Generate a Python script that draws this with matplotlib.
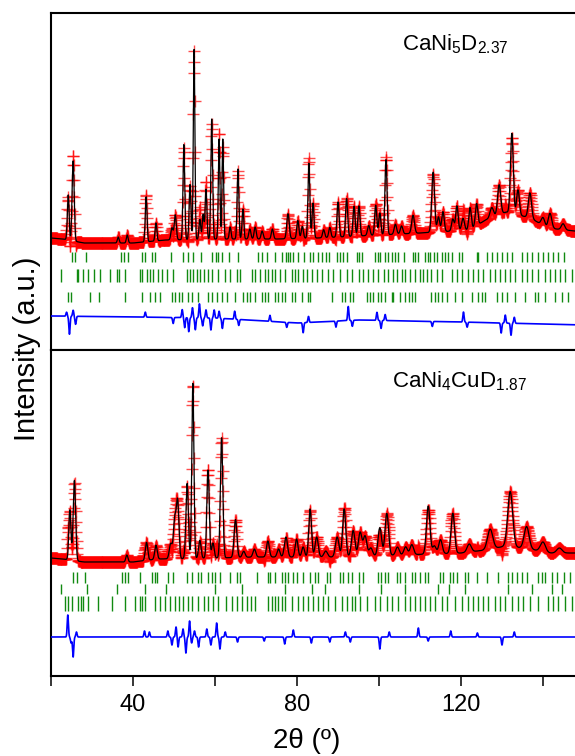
import numpy as np
import matplotlib
matplotlib.use("Agg")
import matplotlib.pyplot as plt

plt.rcParams['font.family'] = ['Liberation Sans', 'DejaVu Sans']
plt.rcParams['mathtext.fontset'] = 'custom'
plt.rcParams['mathtext.rm'] = 'Liberation Sans'
plt.rcParams['mathtext.default'] = 'regular'

# ---- data (intensity in arbitrary units) ----
# upper panel: CaNi5D2.37
top_bg_pos = [20, 23, 28, 40, 48, 60, 75, 85, 95, 110, 122, 126, 131, 137, 141, 150]
top_bg_val = [112, 111, 107, 107, 110, 111, 111, 112, 114, 117, 120, 130, 138, 132, 122, 118]
top_peak_pos = [24.2, 25.4, 36.4, 38.6, 43.2, 45.6, 49.5, 50.3, 52.4, 53.9, 54.9, 56.3,
                57.1, 57.8, 59.2, 61.0, 61.9, 63.7, 65.6, 66.8, 68.5, 69.8, 71.5, 74.0,
                77.8, 80.2, 81.3, 82.9, 83.9, 86.5, 88.0, 90.0, 92.1, 93.9, 95.1, 97.5,
                99.2, 100.2, 101.7, 104.0, 105.5, 108.3, 113.2, 114.5, 115.6, 118.0, 119.0,
                120.5, 122.2, 123.8, 127.5, 129.3, 132.4, 133.9, 136.8, 140.0, 141.7, 144.9]
top_peak_h = [45, 80, 6, 8, 45, 18, 12, 25, 95, 55, 190, 20,
              25, 50, 120, 100, 100, 12, 70, 30, 10, 12, 8, 10,
              25, 18, 12, 75, 35, 8, 10, 35, 38, 30, 30, 10,
              30, 22, 75, 10, 8, 18, 60, 15, 20, 12, 25,
              12, 22, 22, 10, 30, 80, 25, 25, 8, 15, 6]
top_peak_w = [0.5, 0.6, 0.5, 0.5, 0.5, 0.5, 0.6, 0.6, 0.5, 0.5, 0.45, 0.5,
              0.5, 0.5, 0.5, 0.45, 0.45, 0.5, 0.5, 0.5, 0.6, 0.6, 0.6, 0.6,
              0.7, 0.6, 0.6, 0.55, 0.55, 0.6, 0.6, 0.6, 0.6, 0.6, 0.6, 0.7,
              0.6, 0.6, 0.6, 0.7, 0.7, 0.8, 0.8, 0.7, 0.7, 0.7, 0.7,
              0.8, 0.7, 0.7, 1.0, 0.9, 0.8, 0.8, 0.9, 1.0, 1.0, 1.0]
top_diff_base_pos = [20, 60, 80, 95, 120, 150]
top_diff_base_val = [34, 32, 27, 30, 28, 25]
top_diff_pos = [23.8, 24.5, 25.4, 26.0, 43.0, 49.8, 52.0, 52.6, 53.6, 54.5, 55.2, 56.2,
                57.0, 57.8, 59.0, 59.8, 61.0, 61.8, 64.8, 65.8, 73.4, 77.5, 81.5, 82.8,
                89.5, 92.5, 93.5, 99.5, 100.5, 101.5, 113.0, 120.6, 121.5, 129.8, 130.8,
                132.2, 133.0]
top_diff_amp = [4, -18, 6, -8, 5, -6, 8, -10, -14, 10, -12, 14,
                -8, 8, -12, 8, 7, -10, 8, -6, 6, -5, -10, 6,
                -6, 14, -6, 8, -8, 6, -5, 10, -5, -10, 8,
                -12, 6]
top_ticks_a = [25.2, 25.9, 28.5, 37.1, 37.9, 38.9, 42.1, 42.9, 44.7, 45.4, 49.3, 52.3,
               53.3, 54.7, 56.6, 59.2, 60.2, 60.8, 61.6, 63.3, 65.7, 70.6, 71.4, 72.6,
               74.6, 76.4, 77.2, 77.7, 78.3, 79.1, 80.3, 81.8, 83.2, 84.0, 85.2, 86.0,
               87.0, 87.8, 89.7, 90.5, 91.3, 92.1, 94.6, 95.1, 95.8, 99.0, 99.7, 100.2,
               101.5, 102.1, 103.1, 103.9, 104.7, 106.2, 108.4, 108.9, 109.6, 111.2, 111.9,
               112.4, 113.3, 114.1, 115.3, 116.1, 116.9, 117.7, 119.4, 120.2, 123.8, 124.2,
               126.3, 127.5, 128.7, 130.0, 131.1, 132.4, 134.8, 136.0, 137.2, 138.9, 140.1,
               141.3, 142.5, 143.7, 145.0]
top_ticks_b = [22.4, 26.3, 26.7, 27.9, 29.1, 30.6, 32.0, 34.4, 36.0, 36.6, 38.0, 41.7,
               42.1, 43.3, 44.1, 44.9, 46.2, 47.0, 48.2, 49.8, 53.1, 53.9, 54.7, 55.5,
               56.3, 57.2, 58.2, 59.2, 60.8, 62.4, 63.7, 65.3, 66.1, 69.0, 69.8, 71.0,
               72.2, 73.0, 73.8, 74.6, 75.9, 77.1, 78.7, 79.5, 80.3, 81.5, 82.4, 83.6,
               84.8, 86.0, 87.6, 88.9, 90.5, 92.1, 93.3, 95.0, 96.2, 97.4, 98.6, 99.8,
               101.1, 102.3, 103.3, 104.3, 105.5, 106.3, 107.6, 108.8, 110.0, 110.8, 111.6,
               112.8, 114.1, 115.3, 117.7, 119.0, 120.2, 121.8, 123.0, 124.2, 125.4, 127.1,
               128.3, 129.5, 130.7, 131.9, 133.2, 134.8, 136.0, 137.2, 138.9, 140.5, 141.7,
               142.9, 144.1, 145.4, 147.0]
top_ticks_c = [24.2, 24.9, 29.5, 31.7, 38.0, 42.1, 44.1, 45.4, 46.6, 49.4, 50.2, 51.1,
               51.9, 53.5, 54.3, 55.9, 58.4, 59.2, 60.4, 61.6, 62.9, 64.9, 66.9, 67.7,
               68.5, 69.8, 71.4, 72.2, 73.0, 74.6, 75.4, 76.4, 77.1, 78.7, 79.5, 81.1,
               82.8, 83.2, 88.5, 90.9, 91.7, 93.0, 93.7, 97.0, 97.8, 98.6, 99.8, 100.6,
               101.5, 103.1, 103.5, 105.1, 106.3, 107.2, 108.0, 108.8, 112.8, 113.7, 114.5,
               115.3, 116.5, 118.5, 120.2, 122.6, 124.2, 125.0, 125.9, 128.7, 129.9, 131.1,
               133.2, 135.6, 138.0, 138.9, 140.5, 142.9, 144.6, 146.2]

# lower panel: CaNi4CuD1.87
bot_bg_pos = [20, 23, 28, 40, 46, 60, 70, 80, 90, 105, 120, 126, 131, 137, 141, 150]
bot_bg_val = [118, 117, 114, 114, 117, 118, 119, 119, 119, 121, 123, 126, 130, 127, 123, 123]
bot_peak_pos = [24.6, 25.7, 38.5, 43.3, 45.6, 49.2, 50.2, 50.9, 53.2, 54.6, 56.3, 58.3,
                59.5, 61.6, 65.0, 67.0, 69.6, 72.9, 75.5, 77.3, 79.9, 81.5, 83.2, 84.8,
                87.0, 89.8, 91.5, 93.7, 95.4, 96.6, 98.0, 100.2, 101.9, 104.5, 106.5, 108.0,
                112.0, 113.5, 115.0, 118.0, 122.0, 127.1, 132.0, 136.0, 140.0, 144.0]
bot_peak_h = [50, 80, 7, 18, 14, 15, 40, 55, 75, 175, 18, 88,
              15, 120, 38, 6, 8, 16, 8, 20, 18, 10, 48, 20,
              6, 20, 48, 26, 24, 20, 8, 28, 42, 8, 8, 10,
              48, 8, 14, 40, 8, 20, 55, 22, 10, 5]
bot_peak_w = [0.6, 0.7, 0.6, 0.7, 0.7, 0.8, 0.8, 0.7, 0.7, 0.6, 0.7, 0.7,
              0.7, 0.7, 0.8, 0.8, 0.8, 0.8, 0.8, 0.9, 0.8, 0.8, 0.8, 0.9,
              1.0, 1.0, 0.9, 1.0, 1.0, 1.0, 1.0, 1.0, 1.0, 1.0, 1.0, 1.0,
              1.0, 1.0, 1.0, 1.0, 1.2, 1.5, 1.4, 1.4, 1.5, 1.5]
bot_diff_base_pos = [20, 60, 100, 150]
bot_diff_base_val = [39, 39, 39, 39]
bot_diff_pos = [24.1, 24.9, 25.4, 26.2, 42.8, 44.0, 48.5, 49.5, 50.5, 51.0, 52.2, 52.9,
                53.8, 54.3, 55.0, 56.0, 58.0, 59.0, 60.4, 61.2, 62.5, 65.5, 72.0, 77.0,
                79.1, 83.5, 88.0, 91.8, 93.0, 100.2, 102.5, 109.6, 112.0, 117.5, 124.0,
                130.0, 133.0]
bot_diff_amp = [22, -6, -20, 5, 6, 5, 6, -8, 10, -10, 8, -16,
                16, -6, 6, -10, 8, -8, 14, -12, 5, -5, -4, -7,
                7, -6, -5, 5, -5, -12, 5, 9, -4, 6, 4,
                -8, 5]
bot_ticks_a = [25.4, 26.3, 28.3, 37.4, 38.0, 38.9, 41.7, 44.6, 45.4, 45.8, 48.6, 49.8,
               53.1, 54.3, 55.9, 56.7, 58.4, 59.2, 60.0, 61.2, 63.7, 65.3, 66.1, 70.2,
               73.0, 73.4, 74.6, 76.3, 77.1, 77.9, 79.1, 79.9, 81.5, 83.2, 84.4, 85.2,
               87.2, 88.1, 90.5, 91.3, 92.5, 93.3, 95.0, 96.2, 99.8, 100.6, 101.5, 102.3,
               104.3, 105.1, 106.3, 108.0, 108.8, 110.0, 111.2, 112.0, 114.9, 115.7, 117.3,
               118.1, 119.0, 121.0, 121.8, 123.8, 126.3, 129.1, 131.5, 132.4, 133.6, 134.8,
               136.0, 138.9, 139.7, 140.5, 142.1, 143.3, 145.0, 146.6]
bot_ticks_b = [22.4, 28.9, 36.0, 42.9, 48.0, 60.0, 66.5, 77.0, 83.6, 86.8, 95.0, 100.6,
               106.3, 114.5, 117.0, 121.0, 131.5, 137.2, 142.1, 144.6]
bot_ticks_c = [23.4, 24.1, 25.0, 26.7, 27.3, 27.9, 29.1, 31.5, 34.8, 38.0, 40.5, 41.7,
               42.1, 42.9, 45.4, 46.6, 47.8, 49.0, 50.2, 51.1, 52.3, 53.5, 54.3, 55.9,
               57.2, 58.4, 59.6, 60.8, 62.8, 64.1, 65.3, 66.5, 67.7, 68.9, 69.8, 73.0,
               73.8, 74.6, 75.4, 76.3, 77.1, 78.7, 80.3, 81.5, 82.8, 84.0, 85.2, 86.4,
               87.6, 89.3, 90.9, 92.1, 93.3, 94.1, 95.4, 97.0, 99.0, 100.2, 101.9, 103.1,
               104.7, 106.3, 107.6, 108.8, 110.0, 111.2, 112.4, 113.7, 115.3, 116.5, 118.5,
               120.2, 121.8, 123.0, 124.2, 125.4, 126.7, 128.3, 129.5, 130.7, 132.4, 134.0,
               135.2, 136.8, 138.9, 141.3, 142.5, 143.7, 145.4, 147.0]

x_ticks = [20, 40, 60, 80, 100, 120, 140]
x_tick_labels = ['', '40', '', '80', '', '120', '']
labels = [r'CaNi$_5$D$_{2.37}$', r'CaNi$_4$CuD$_{1.87}$']


def profile(x, bg_pos, bg_val, pos, h, w):
    """background + gaussian peaks from the peak table"""
    y = np.interp(x, bg_pos, bg_val)
    for p, a, fw in zip(pos, h, w):
        y = y + a * np.exp(-4 * np.log(2) * (x - p) ** 2 / fw ** 2)
    return y


def misfit(x, pos, amp, width=0.35):
    d = np.zeros_like(x)
    for p, a in zip(pos, amp):
        d = d + a * np.exp(-4 * np.log(2) * (x - p) ** 2 / width ** 2)
    return d


def draw_panel(ax, bg, peaks, diff_base, diff, tick_rows, ylim):
    x_line = np.arange(20, 150, 0.02)
    x_obs = np.arange(20, 150, 0.08)
    calc_line = profile(x_line, bg[0], bg[1], *peaks)
    obs = profile(x_obs, bg[0], bg[1], *peaks) + misfit(x_obs, *diff)
    diff_line = np.interp(x_line, *diff_base) + misfit(x_line, *diff)

    ax.plot(x_obs, obs, '+', color='#ff0000', ms=8, mew=1.0, alpha=0.7, zorder=2)
    ax.plot(x_line, calc_line, '-', color='black', lw=0.9, zorder=3)
    for ticks, (y0, y1) in tick_rows:
        ax.vlines(ticks, y0, y1, color='#118a11', lw=1.0, zorder=2)
    ax.plot(x_line, diff_line, '-', color='#0000ff', lw=1.2, zorder=3)

    ax.set_xlim(20, 150)
    ax.set_ylim(*ylim)
    ax.tick_params(left=False, labelleft=False)
    for s in ax.spines.values():
        s.set_linewidth(1.5)


fig = plt.figure(figsize=(5.75, 7.56), dpi=100)
ax_top = fig.add_axes([51 / 575, 406 / 756, 533 / 575, 337 / 756])
ax_bot = fig.add_axes([51 / 575, 80 / 756, 533 / 575, 326 / 756])

draw_panel(ax_top, (top_bg_pos, top_bg_val),
           (top_peak_pos, top_peak_h, top_peak_w),
           (top_diff_base_pos, top_diff_base_val),
           (top_diff_pos, top_diff_amp),
           [(top_ticks_a, (88, 98)), (top_ticks_b, (68, 81)), (top_ticks_c, (48, 58))],
           (0, 337))
draw_panel(ax_bot, (bot_bg_pos, bot_bg_val),
           (bot_peak_pos, bot_peak_h, bot_peak_w),
           (bot_diff_base_pos, bot_diff_base_val),
           (bot_diff_pos, bot_diff_amp),
           [(bot_ticks_a, (93, 104)), (bot_ticks_b, (82, 92)), (bot_ticks_c, (65, 80))],
           (0, 326))

ax_top.tick_params(bottom=False, labelbottom=False)
ax_bot.set_xticks(x_ticks)
ax_bot.set_xticklabels(x_tick_labels)
ax_bot.tick_params(axis='x', direction='out', length=7, width=1.1, pad=6, labelsize=17)

fig.text(455 / 575, 1 - 44 / 756, labels[0], ha='center', va='center', fontsize=16)
fig.text(460 / 575, 1 - 381 / 756, labels[1], ha='center', va='center', fontsize=16)
fig.text(27 / 575, 1 - 349 / 756, 'Intensity (a.u.)', rotation=90,
         ha='center', va='center', fontsize=21)
fig.text(307 / 575, 1 - 741 / 756, '2θ (º)', ha='center', va='center', fontsize=20)

fig.savefig('out.png', dpi=100)
